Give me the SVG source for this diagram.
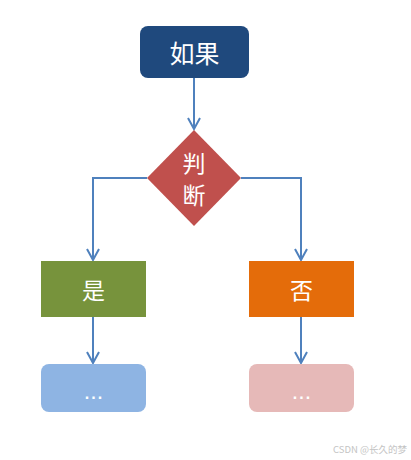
<svg xmlns="http://www.w3.org/2000/svg" width="411" height="460" viewBox="0 0 411 460">
<style>
.lbl{font-family:"Noto Sans CJK SC","Liberation Sans",sans-serif;fill:#fff;text-anchor:middle;dominant-baseline:central}
.dots{font-family:"Liberation Sans",sans-serif;fill:#fff;text-anchor:middle;font-size:16px;font-weight:bold;letter-spacing:2px}
.conn{fill:none;stroke:#4F81BD;stroke-width:2;marker-end:url(#arr)}
</style>
<defs>
<marker id="arr" viewBox="0 0 14 14" refX="12" refY="7" markerWidth="14" markerHeight="14" markerUnits="userSpaceOnUse" orient="auto">
<path d="M1,1 L12,7 L1,13" fill="none" stroke="#4F81BD" stroke-width="2"/>
</marker>
</defs>
<rect width="411" height="460" fill="#fff"/>
<g id="connectors">
<path class="conn" d="M194,78 V129"/>
<path class="conn" d="M147,178 H93 V260"/>
<path class="conn" d="M241,178 H301 V260"/>
<path class="conn" d="M93,317 V363"/>
<path class="conn" d="M301,317 V363"/>
</g>
<g id="n-if">
<rect x="140" y="26" width="109" height="52" rx="8" fill="#1F497D"/>
<text class="lbl" x="194.5" y="52" font-size="25">如果</text>
</g>
<g id="n-judge">
<polygon points="194,130 241,178 194,226 147,178" fill="#C0504D"/>
<text class="lbl" x="194" y="162" font-size="23">判</text>
<text class="lbl" x="194" y="194" font-size="23">断</text>
</g>
<g id="n-yes">
<rect x="41" y="261" width="105" height="56" fill="#77933C"/>
<text class="lbl" x="93.5" y="289" font-size="23">是</text>
</g>
<g id="n-no">
<rect x="249" y="261" width="105" height="56" fill="#E46C0A"/>
<text class="lbl" x="301.5" y="289" font-size="23">否</text>
</g>
<g id="n-yes-next">
<rect x="41" y="364" width="105" height="48" rx="8" fill="#8EB4E3"/>
<text class="dots" x="94.5" y="399">...</text>
</g>
<g id="n-no-next">
<rect x="249" y="364" width="105" height="48" rx="8" fill="#E6B9B8"/>
<text class="dots" x="302.5" y="399">...</text>
</g>
<text x="407" y="449" font-family="Noto Sans CJK SC,Liberation Sans,sans-serif" font-size="9.5" fill="#c4c4c4" text-anchor="end" dominant-baseline="central">CSDN @长久的梦</text>
</svg>
